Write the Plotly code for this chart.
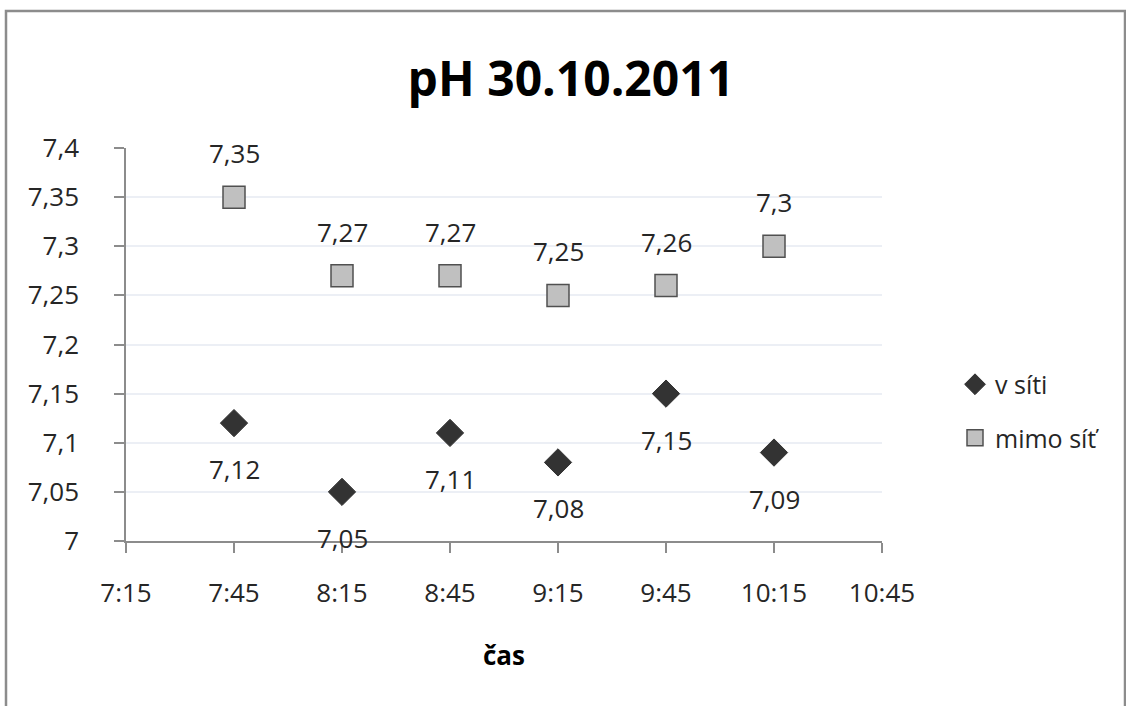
import plotly.graph_objects as go

times = ["2011-10-30 07:45", "2011-10-30 08:15", "2011-10-30 08:45",
         "2011-10-30 09:15", "2011-10-30 09:45", "2011-10-30 10:15"]
v_siti = [7.12, 7.05, 7.11, 7.08, 7.15, 7.09]
mimo_sit = [7.35, 7.27, 7.27, 7.25, 7.26, 7.30]
series_names = ["v síti", "mimo síť"]
title_text = "pH 30.10.2011"
x_title = "čas"

FONT = "Open Sans"
TXT = "#262626"
FS = 26

def fmt(v):
    s = ("%.2f" % v).rstrip("0").rstrip(".")
    return s.replace(".", ",")

fig = go.Figure()
fig.add_trace(go.Scatter(
    x=times, y=v_siti, mode="markers", name=series_names[0],
    marker=dict(symbol="diamond", size=21, color="#333333",
                line=dict(color="#333333", width=1)),
    legendgroup="a"))
fig.add_trace(go.Scatter(
    x=times, y=mimo_sit, mode="markers", name=series_names[1],
    marker=dict(symbol="square", size=22, color="#c0c0c0",
                line=dict(color="#505050", width=1.5)),
    legendgroup="b"))

annotations = []
for t, v in zip(times, v_siti):
    annotations.append(dict(x=t, y=v, text=fmt(v), showarrow=False, yshift=-46,
                            font=dict(family=FONT, size=FS, color=TXT)))
for t, v in zip(times, mimo_sit):
    annotations.append(dict(x=t, y=v, text=fmt(v), showarrow=False, yshift=44,
                            font=dict(family=FONT, size=FS, color=TXT)))

fig.update_layout(
    width=1126, height=706,
    margin=dict(l=126, r=244, t=148, b=165),
    paper_bgcolor="white", plot_bgcolor="white",
    separators=", ",
    font=dict(family=FONT, size=FS, color=TXT),
    title=dict(text="<b>" + title_text + "</b>", x=0.507, xref="container",
               y=1 - 79 / 706, yref="container", yanchor="middle", xanchor="center",
               font=dict(family=FONT, size=48, color="#000000")),
    showlegend=True,
    legend=dict(x=(955 - 126) / 756, y=(541 - 411) / 393, xanchor="left", yanchor="middle",
                xref="paper", yref="paper", tracegroupgap=18,
                font=dict(family=FONT, size=FS - 1, color=TXT),
                itemwidth=30, bgcolor="rgba(0,0,0,0)"),
    annotations=annotations,
    shapes=[dict(type="rect", xref="paper", yref="paper",
                 x0=(6 - 126) / 756, x1=(1125 - 126) / 756,
                 y0=(541 - 708) / 393, y1=(541 - 11) / 393,
                 line=dict(color="#8c8c8c", width=2.5), layer="below")],
)
fig.update_xaxes(
    type="date",
    range=["2011-10-30 07:15", "2011-10-30 10:45"],
    tick0="2011-10-30 07:15", dtick=30 * 60 * 1000,
    tickformat="%-H:%M",
    showgrid=False, zeroline=False,
    showline=True, linecolor="#8c8c8c", linewidth=1.5,
    ticks="outside", ticklen=10, tickcolor="#8c8c8c", tickwidth=1.5,
    ticklabelstandoff=18,
    tickfont=dict(family=FONT, size=FS, color=TXT),
    title=dict(text="<b>" + x_title + "</b>", standoff=38,
               font=dict(family=FONT, size=FS, color="#000000")),
)
fig.update_yaxes(
    range=[7.0, 7.4], dtick=0.05, tick0=7.0,
    tickformat=".2~f",
    showgrid=True, gridcolor="#eceff5", gridwidth=1.5,
    zeroline=False,
    showline=True, linecolor="#8c8c8c", linewidth=1.5,
    ticks="outside", ticklen=10, tickcolor="#8c8c8c", tickwidth=1.5,
    ticklabelstandoff=30,
    tickfont=dict(family=FONT, size=FS, color=TXT),
)

fig.write_html("out.html")
